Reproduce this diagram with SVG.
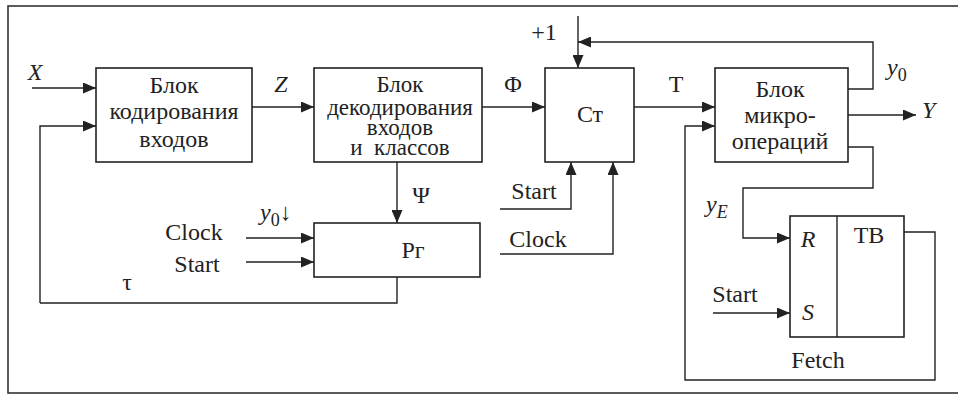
<svg xmlns="http://www.w3.org/2000/svg" width="958" height="394" viewBox="0 0 958 394">
<defs>
<style>
.box{fill:#fff;stroke:#222;stroke-width:1.6}
.ln{fill:none;stroke:#222;stroke-width:1.4}
.ar{marker-end:url(#ah)}
text{font-family:"Liberation Serif","Times New Roman",serif;font-size:24px;fill:#222}
.c{text-anchor:middle}
.i{font-style:italic}
.sub{font-size:18px}
.tight{font-size:23px}
</style>
<marker id="ah" markerUnits="userSpaceOnUse" markerWidth="13" markerHeight="11" refX="13" refY="5.5" orient="auto">
<path d="M0,0 L13,5.5 L0,11 z" fill="#222"/>
</marker>
</defs>
<rect width="958" height="394" fill="#fff"/>
<rect x="8" y="6" width="1000" height="387" fill="none" stroke="#333" stroke-width="1.6"/>

<g id="connectors">
<path class="ln ar" d="M32,88 H96"/>
<path class="ln ar" d="M40,303 V126 H96"/>
<path class="ln ar" d="M252,107 H314"/>
<path class="ln ar" d="M397,162 V223"/>
<path class="ln ar" d="M246,238 H314"/>
<path class="ln ar" d="M246,262 H314"/>
<path class="ln" d="M397,277 V303 H40"/>
<path class="ln ar" d="M482,107 H545"/>
<path class="ln ar" d="M578,16 V68"/>
<path class="ln ar" d="M848,89 H873 V42 H578"/>
<path class="ln ar" d="M500,209 H571 V162"/>
<path class="ln ar" d="M500,254 H613 V162"/>
<path class="ln ar" d="M634,107 H715"/>
<path class="ln ar" d="M904,232 H935 V380 H685 V126 H715"/>
<path class="ln ar" d="M848,115 H916"/>
<path class="ln ar" d="M848,147 H873 V188 H743 V238 H790"/>
<path class="ln ar" d="M713,313 H790"/>
</g>

<g id="labels">
<text x="35" y="80" class="c i">X</text>
<text x="281" y="92" class="c i">Z</text>
<text x="513" y="92" class="c">Φ</text>
<text x="676" y="92" class="c">T</text>
<text x="544" y="40" class="c">+1</text>
<text x="887" y="75" class="i">y<tspan class="sub" font-style="normal" dy="6">0</tspan></text>
<text x="922" y="118" class="i">Y</text>
<text x="421" y="203" class="c">Ψ</text>
<text x="194" y="240" class="c">Clock</text>
<text x="197" y="272" class="c">Start</text>
<text x="260" y="220" class="i">y<tspan class="sub" font-style="normal" dy="6">0</tspan><tspan dy="-6" font-style="normal">↓</tspan></text>
<text x="127" y="290" class="c">τ</text>
<text x="534" y="199" class="c">Start</text>
<text x="538" y="247" class="c">Clock</text>
<text x="706" y="212" class="i">y<tspan class="sub" dy="6">E</tspan></text>
<text x="735" y="302" class="c">Start</text>
<text x="818" y="368" class="c">Fetch</text>
</g>

<g id="block-coding">
<rect class="box" x="96" y="68" width="156" height="94"/>
<text x="174" y="93" class="c">Блок</text>
<text x="174" y="119" class="c">кодирования</text>
<text x="174" y="147" class="c">входов</text>
</g>

<g id="block-decoding">
<rect class="box" x="314" y="68" width="168" height="94"/>
<text x="400" y="92" class="c tight">Блок</text>
<text x="400" y="115" class="c tight">декодирования</text>
<text x="400" y="135" class="c tight">входов</text>
<text x="400" y="155" class="c tight" xml:space="preserve">и  классов</text>
</g>

<g id="block-reg">
<rect class="box" x="314" y="223" width="166" height="54"/>
<text x="413" y="258" class="c">Рг</text>
</g>

<g id="block-counter">
<rect class="box" x="545" y="68" width="89" height="94"/>
<text x="590" y="122" class="c">Ст</text>
</g>

<g id="block-microops">
<rect class="box" x="715" y="68" width="133" height="94"/>
<text x="780" y="97" class="c">Блок</text>
<text x="780" y="123" class="c">микро-</text>
<text x="780" y="149" class="c">операций</text>
</g>

<g id="block-tb">
<rect class="box" x="790" y="216" width="114" height="121"/>
<line class="ln" x1="837" y1="216" x2="837" y2="337"/>
<text x="808" y="247" class="c i">R</text>
<text x="808" y="320" class="c i">S</text>
<text x="869" y="243" class="c">ТВ</text>
</g>
</svg>
